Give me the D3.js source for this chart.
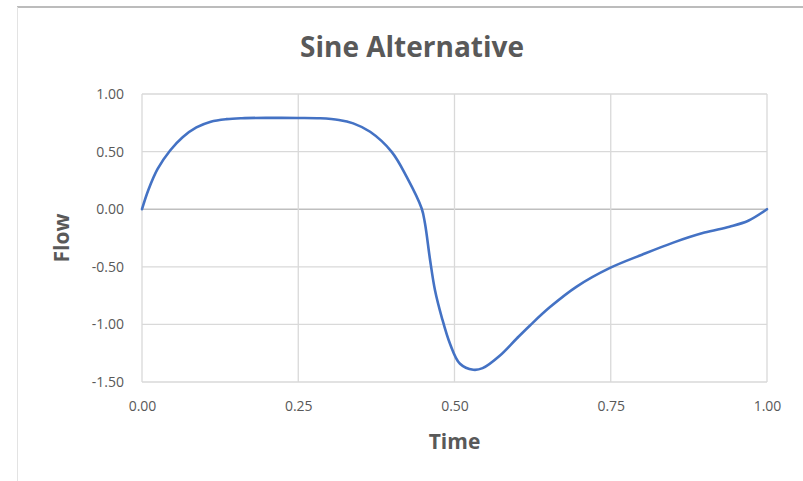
<!DOCTYPE html>
<html>
<head>
<meta charset="utf-8">
<script src="https://cdn.jsdelivr.net/npm/d3@7"></script>
<style>
  html, body { margin: 0; padding: 0; background: #fff; }
  svg { display: block; }
</style>
</head>
<body>
<svg id="chart" width="803" height="481"></svg>
<script>
// ---- data ----
const chartTitle = "Sine Alternative";
const xLabel = "Time";
const yLabel = "Flow";
const time = [0, 0.01, 0.025, 0.045, 0.065, 0.087, 0.11, 0.135, 0.16, 0.2, 0.25, 0.285, 0.315, 0.338, 0.365, 0.3995, 0.4235, 0.4475,
              0.4528, 0.461, 0.4688, 0.4795, 0.4928, 0.5088, 0.53, 0.545, 0.5728, 0.6, 0.6208, 0.6528, 0.6955, 0.7488, 0.80, 0.85, 0.90, 0.94, 0.97, 1.0];
const flow = [0, 0.165, 0.35, 0.51, 0.625, 0.71, 0.76, 0.782, 0.79, 0.793, 0.792, 0.789, 0.775, 0.745, 0.672, 0.498, 0.281, 0.006,
              -0.125, -0.443, -0.704, -0.936, -1.168, -1.342, -1.394, -1.38, -1.27, -1.12, -1.009, -0.85, -0.672, -0.51, -0.395, -0.29, -0.203, -0.152, -0.10, 0];
const xTicks = [0, 0.25, 0.5, 0.75, 1.0];
const yTicks = [-1.5, -1.0, -0.5, 0, 0.5, 1.0];

// ---- layout ----
const svg = d3.select("#chart");
const pLeft = 142, pRight = 767, pTop = 94, pBottom = 382;
const x = d3.scaleLinear().domain([0, 1]).range([pLeft, pRight]);
const y = d3.scaleLinear().domain([-1.5, 1.0]).range([pBottom, pTop]);

const font = "'Open Sans', 'Liberation Sans', sans-serif";
const textColor = "#595959";
const fmt = d => d3.format(".2f")(d).replace("\u2212", "-");

// chart frame
svg.append("line").attr("x1", 17).attr("x2", 803).attr("y1", 7).attr("y2", 7)
  .attr("stroke", "#a6a6a6").attr("stroke-width", 1.5);
svg.append("line").attr("x1", 17.5).attr("x2", 17.5).attr("y1", 7).attr("y2", 481)
  .attr("stroke", "#e3e3e3").attr("stroke-width", 1);

// gridlines
const grid = svg.append("g");
grid.selectAll("line.h").data(yTicks).join("line")
  .attr("x1", pLeft).attr("x2", pRight)
  .attr("y1", d => y(d)).attr("y2", d => y(d))
  .attr("stroke", d => d === 0 ? "#bfbfbf" : "#d9d9d9")
  .attr("stroke-width", d => d === 0 ? 1.5 : 1.3);
grid.selectAll("line.v").data(xTicks).join("line")
  .attr("y1", pTop).attr("y2", pBottom)
  .attr("x1", d => x(d)).attr("x2", d => x(d))
  .attr("stroke", "#d9d9d9").attr("stroke-width", 1.3);

// axes (labels only)
const xAxis = d3.axisBottom(x).tickValues(xTicks).tickFormat(fmt).tickSize(0).tickPadding(19);
const gx = svg.append("g").attr("transform", `translate(0,${pBottom})`).call(xAxis);
gx.select(".domain").remove();
gx.selectAll("text").attr("font-family", font).attr("font-size", 14).attr("fill", textColor);

const yAxis = d3.axisLeft(y).tickValues(yTicks).tickFormat(fmt).tickSize(0).tickPadding(18);
const gy = svg.append("g").attr("transform", `translate(${pLeft},0)`).call(yAxis);
gy.select(".domain").remove();
gy.selectAll("text").attr("font-family", font).attr("font-size", 14).attr("fill", textColor);

// line
const data = time.map((t, i) => ({ t, v: flow[i] }));
const line = d3.line().x(d => x(d.t)).y(d => y(d.v)).curve(d3.curveCatmullRom.alpha(0.5));
svg.append("path").datum(data)
  .attr("d", line)
  .attr("fill", "none")
  .attr("stroke", "#4472c4")
  .attr("stroke-width", 2.6)
  .attr("stroke-linejoin", "round")
  .attr("stroke-linecap", "round");

// title
svg.append("text").attr("x", 412).attr("y", 57)
  .attr("text-anchor", "middle")
  .attr("font-family", font).attr("font-weight", 700).attr("font-size", 28)
  .attr("fill", textColor).text(chartTitle);

// axis titles
svg.append("text").attr("x", (pLeft + pRight) / 2).attr("y", 449)
  .attr("text-anchor", "middle")
  .attr("font-family", font).attr("font-weight", 700).attr("font-size", 21)
  .attr("fill", textColor).text(xLabel);

svg.append("text")
  .attr("transform", `translate(69,${(pTop + pBottom) / 2}) rotate(-90)`)
  .attr("text-anchor", "middle")
  .attr("font-family", font).attr("font-weight", 700).attr("font-size", 21)
  .attr("fill", textColor).text(yLabel);
</script>
</body>
</html>
